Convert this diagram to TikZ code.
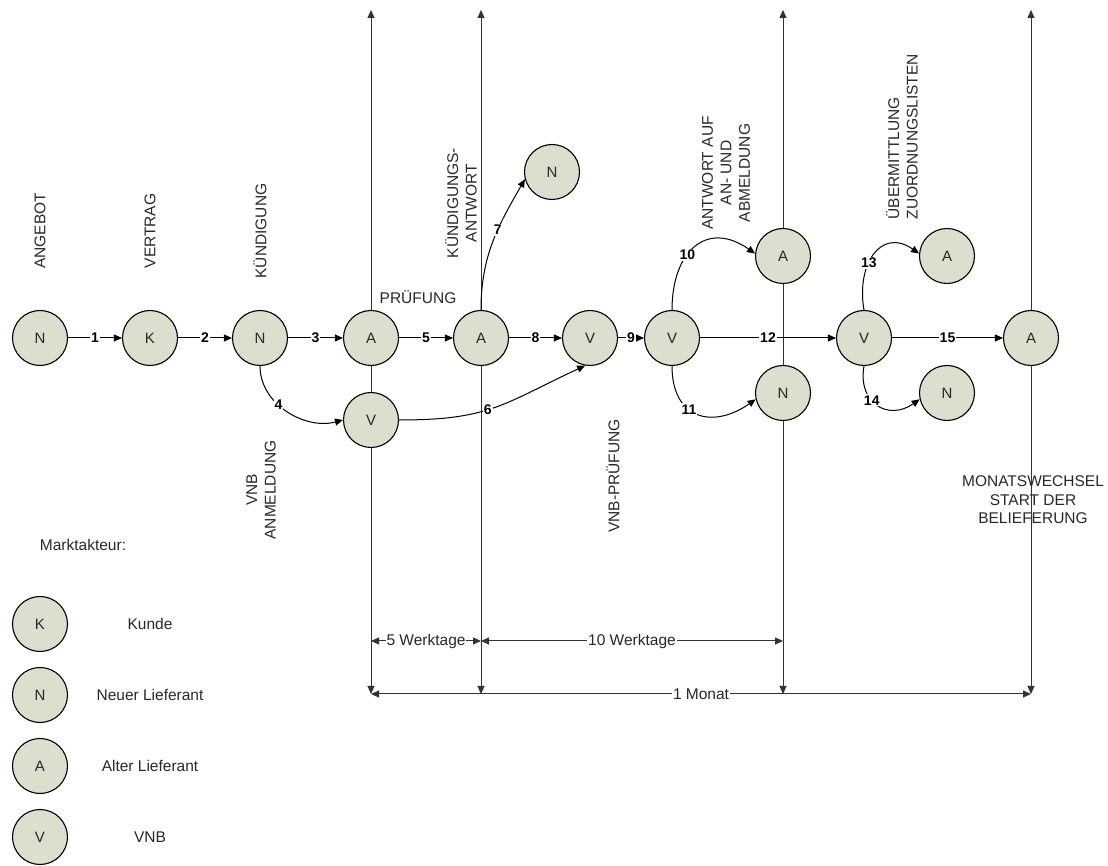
\documentclass[tikz,border=0pt]{standalone}
\usepackage{fontspec}
\setmainfont{Liberation Sans}
\usetikzlibrary{arrows.meta}
\definecolor{akteur}{RGB}{221,222,205}
\definecolor{schrift}{RGB}{40,40,40}

\begin{document}
\begin{tikzpicture}[x=1pt,y=1pt,>={Triangle[length=8pt,width=7pt]},
  actor/.style={circle,draw,line width=1.1pt,fill=akteur,minimum size=55pt,inner sep=0pt,text=schrift,font=\fontsize{15}{18}\selectfont},
  msg/.style={->,line width=1pt},
  num/.style={fill=white,inner sep=1pt,font=\fontsize{14}{16}\selectfont\bfseries},
  lbl/.style={align=center,text=schrift,font=\fontsize{15.5}{18.5}\selectfont},
  vlbl/.style={lbl,rotate=90},
  axis/.style={line width=1pt,draw=black!80}]
\useasboundingbox (0,0) rectangle (1108,865);

% Zeitachsen
\coordinate (t1) at (371,855);
\coordinate (t2) at (481,855);
\coordinate (t3) at (783,855);
\coordinate (t4) at (1031,855);
\coordinate (b1) at (371,171);
\coordinate (b2) at (481,171);
\coordinate (b3) at (783,171);
\coordinate (b4) at (1031,171);
\coordinate (w1) at (371,224);
\coordinate (w2) at (481,224);
\coordinate (w3) at (783,224);

% Hauptprozess
\node [actor] (n1) at (40,527) {N};
\node [actor] (k) at (150,527) {K};
\node [actor] (n2) at (260,527) {N};
\node [actor] (a1) at (371,527) {A};
\node [actor] (a2) at (481,527) {A};
\node [actor] (v1) at (590,527) {V};
\node [actor] (v2) at (672,527) {V};
\node [actor] (v3) at (864,527) {V};
\node [actor] (a3) at (1031,527) {A};
\node [actor] (vb) at (371,445) {V};
\node [actor] (nt) at (552,693) {N};
\node [actor] (a4) at (783,609) {A};
\node [actor] (n3) at (783,472) {N};
\node [actor] (a5) at (947,609) {A};
\node [actor] (n4) at (947,472) {N};

\draw [axis,->] (a1) -- (t1);
\draw [axis] (a1) -- (vb);
\draw [axis,->] (vb) -- (b1);
\draw [axis,->] (a2) -- (t2);
\draw [axis,->] (a2) -- (b2);
\draw [axis,->] (a4) -- (t3);
\draw [axis] (a4) -- (n3);
\draw [axis,->] (n3) -- (b3);
\draw [axis,->] (a3) -- (t4);
\draw [axis,->] (a3) -- (b4);

\draw [msg] (n1) -- node[num]{1} (k);
\draw [msg] (k) -- node[num]{2} (n2);
\draw [msg] (n2) -- node[num]{3} (a1);
\draw [msg] (a1) -- node[num]{5} (a2);
\draw [msg] (a2) -- node[num]{8} (v1);
\draw [msg] (v1) -- node[num]{9} (v2);
\draw [msg] (v2) -- node[num]{12} (v3);
\draw [msg] (v3) -- node[num]{15} (a3);
\draw [msg] (n2.south) to[out=-90,in=195] node[num,pos=0.4]{4} (vb.west);
\draw [msg] (vb.east) to[out=0,in=205,looseness=1.2] node[num,pos=0.45]{6} (v1.260);
\draw [msg] (a2.north) to[out=90,in=240] node[num,pos=0.6]{7} (nt.195);
\draw [msg] (v2.north) to[out=90,in=145,looseness=1.5] node[num,pos=0.4]{10} (a4.175);
\draw [msg] (v2.south) to[out=-90,in=215,looseness=1.5] node[num,pos=0.4]{11} (n3.193);
\draw [msg] (v3.north) to[out=100,in=145,looseness=1.5] node[num,pos=0.4]{13} (a5.175);
\draw [msg] (v3.south) to[out=-100,in=215,looseness=1.5] node[num,pos=0.4]{14} (n4.193);

% Fristen
\draw [axis,<->] (w1) -- node[lbl,fill=white,inner sep=1pt]{5 Werktage} (w2);
\draw [axis,<->] (w2) -- node[lbl,fill=white,inner sep=1pt]{10 Werktage} (w3);
\draw [axis,<->] (b1) -- node[lbl,fill=white,inner sep=1pt]{1 Monat} (b4);

% Beschriftungen
\node [vlbl] (angebot) at (40,634) {ANGEBOT};
\node [vlbl] (vertrag) at (150,634) {VERTRAG};
\node [vlbl] (kuend) at (260,634) {KÜNDIGUNG};
\node [lbl] (pruef) at (418,568) {PRÜFUNG};
\node [vlbl] (kantw) at (461,662) {KÜNDIGUNGS-\\ANTWORT};
\node [vlbl] (antw) at (726,692) {ANTWORT AUF\\AN- UND\\ABMELDUNG};
\node [vlbl,align=left,anchor=west] (uebm) at (902,642) {ÜBERMITTLUNG\\ZUORDNUNGSLISTEN};
\node [vlbl] (vnbanm) at (261,375) {VNB\\ANMELDUNG};
\node [vlbl] (vnbpr) at (613,389) {VNB-PRÜFUNG};
\node [lbl] (start) at (1033,365) {MONATSWECHSEL\\START DER\\BELIEFERUNG};

% Legende
\node [lbl] (markt) at (83,320) {Marktakteur:};
\node [actor] (lk) at (40,241) {K};
\node [actor] (ln) at (40,170) {N};
\node [actor] (la) at (40,99) {A};
\node [actor] (lv) at (40,28) {V};
\node [lbl] at (150,241) {Kunde};
\node [lbl] at (150,170) {Neuer Lieferant};
\node [lbl] at (150,99) {Alter Lieferant};
\node [lbl] at (150,28) {VNB};
\end{tikzpicture}
\end{document}
